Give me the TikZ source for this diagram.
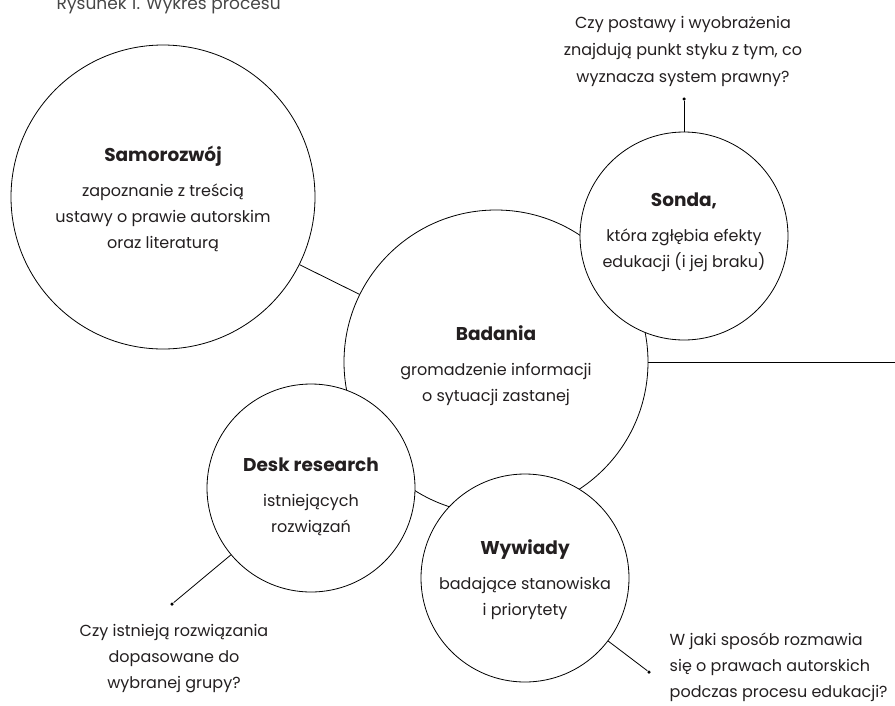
\documentclass[tikz,border=0pt]{standalone}
\usepackage{fontspec}
\setmainfont{Poppins}
\usetikzlibrary{positioning}
\definecolor{text-grey}{RGB}{35, 31, 32}
\definecolor{caption-grey}{RGB}{70, 70, 70}
\newcommand{\bubblehead}[1]{{\fontsize{18.5}{26}\selectfont\bfseries #1}\\[9pt]}

\begin{document}
\begin{tikzpicture}[x=1pt, y=-1pt, line width=0.8pt,
    bubble/.style={circle, draw=black, fill=white, inner sep=0pt},
    blurb/.style={align=center, text=text-grey, font=\fontsize{16}{26}\selectfont},
    dot/.style={circle, fill=black, inner sep=0pt, minimum size=3.5pt}]
\useasboundingbox (0,0) rectangle (895,705);
\node[anchor=base west, text=caption-grey, font=\fontsize{17}{20}\selectfont] (caption) at (53,9.5) {Rysunek 1. Wykres procesu};

\node[bubble, minimum size=304pt] (badania) at (496,362) {};
\node[blurb] (badaniatext) at ([yshift=-4pt]badania.center) {\bubblehead{Badania} gromadzenie informacji\\ o sytuacji zastanej};
\node[bubble, minimum size=304pt] (samorozwoj) at (163,197) {};
\node[blurb] (samorozwojtext) at ([yshift=-2pt]samorozwoj.center) {\bubblehead{Samorozwój} zapoznanie z treścią\\ ustawy o prawie autorskim\\ oraz literaturą};
\node[bubble, minimum size=208pt] (sonda) at (684,236) {};
\node[blurb] (sondatext) at ([yshift=4pt]sonda.center) {\bubblehead{Sonda,} która zgłębia efekty\\ edukacji (i jej braku)};
\node[bubble, minimum size=208pt] (desk) at (311,488) {};
\node[blurb] (desktext) at ([yshift=-9pt]desk.center) {\bubblehead{Desk research} istniejących\\ rozwiązań};
\node[bubble, minimum size=208pt] (wywiady) at (525,578) {};
\node[blurb] (wywiadytext) at ([yshift=-2pt]wywiady.center) {\bubblehead{Wywiady} badające stanowiska\\ i priorytety};

\node[dot] (sondadot) at (684,99) {};
\node[dot] (deskdot) at (172,604) {};
\node[dot] (wywiadydot) at (649,672) {};
\coordinate (edge) at (895,362);

\node[blurb, font=\fontsize{16}{27}\selectfont] (sondaq) at (683,51) {Czy postawy i wyobrażenia\\ znajdują punkt styku z tym, co\\ wyznacza system prawny?};
\node[blurb] (deskq) at (174,659) {Czy istnieją rozwiązania\\ dopasowane do\\ wybranej grupy?};
\node[blurb, align=left, anchor=west] (wywiadyq) at (666,667) {W jaki sposób rozmawia\\ się o prawach autorskich\\ podczas procesu edukacji?};

\draw (samorozwoj) -- (badania);
\draw (badania) -- (edge);
\draw (sonda) -- (sondadot);
\draw (desk) -- (deskdot);
\draw (wywiady) -- (wywiadydot);
\end{tikzpicture}
\end{document}
